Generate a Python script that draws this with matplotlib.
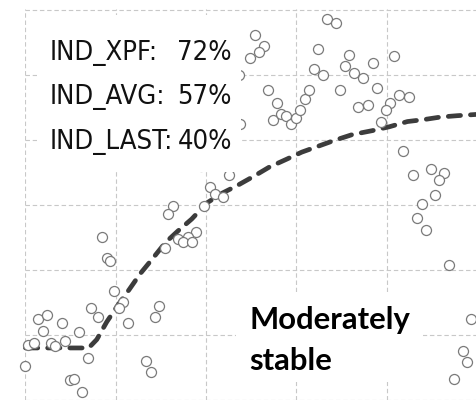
import matplotlib
matplotlib.use("Agg")
import matplotlib.pyplot as plt
from matplotlib.patches import Rectangle
import numpy as np

# observed values
obs_x = [2.54, 2.64, 2.59, 2.49, 2.36, 2.69, 2.79, 2.74, 2.83, 2.89, 2.94, 3.00,
         3.04, 3.10, 3.14, 2.38, 3.24, 3.19, 3.29, 3.34, 3.44, 3.58, 3.54, 3.64,
         3.74, 3.85, 4.08, 3.48, 3.89, 3.68, 3.79, 4.04, 3.99, 3.94, 4.14, 4.25,
         4.18, 4.29, 4.49, 4.63, 4.58, 4.54, 4.39, 4.34, 4.44, 4.69, 4.93, 4.85,
         4.89, 4.75,
         2.25, 1.94, 2.04, 2.10, 2.19, 1.98, 1.63, 1.58, 1.89, 1.80, 1.69, 1.75,
         1.84, 1.54,
         0.85, 0.90, 0.94, 0.98, 1.08, 1.04, 0.73, 0.80, 1.14, 1.48, 1.44, 0.14,
         0.24, 0.19, 0.40, 0.59, 0.03, 0.09, 0.28, 0.33, 0.44, -0.01, 0.69, 0.49,
         0.54, 0.63, 1.34, 1.39]
obs_y = [5.61, 5.44, 5.35, 5.26, 5.00, 4.76, 4.56, 4.31, 4.40, 4.37, 4.25, 4.33,
         4.45, 4.63, 4.76, 4.24, 5.40, 5.09, 5.00, 5.86, 5.80, 5.31, 5.14, 5.02,
         4.95, 5.18, 5.28, 4.76, 4.79, 4.51, 4.54, 4.56, 4.46, 4.28, 4.69, 4.66,
         3.82, 3.46, 3.55, 3.49, 3.38, 3.15, 3.01, 2.80, 2.61, 2.08, 1.24, 0.75,
         0.58, 0.32,
         3.46, 3.59, 3.27, 3.17, 3.12, 2.98, 2.98, 2.86, 2.58, 2.51, 2.48, 2.43,
         2.43, 2.34,
         2.51, 2.19, 2.14, 1.68, 1.50, 1.41, 1.42, 1.27, 1.19, 1.45, 1.27, 1.25,
         1.30, 1.06, 1.19, 1.04, 0.84, 0.87, 0.87, 0.83, 0.90, 0.52, 0.64, 0.31,
         0.32, 0.12, 0.60, 0.43]

# fitted trend
fit_x = [0.00, 0.70, 0.79, 0.90, 1.03, 1.15, 1.27, 1.40, 1.55, 1.69, 1.84, 2.01,
         2.18, 2.35, 2.53, 2.70, 2.89, 3.06, 3.22, 3.42, 3.62, 3.84, 4.03, 4.23,
         4.41, 4.60, 4.78, 5.00]
fit_y = [0.80, 0.80, 0.93, 1.20, 1.47, 1.70, 1.94, 2.16, 2.42, 2.60, 2.78, 3.03,
         3.18, 3.30, 3.44, 3.58, 3.70, 3.81, 3.89, 3.99, 4.08, 4.14, 4.20, 4.28,
         4.31, 4.35, 4.37, 4.39]

ind_names = ["IND_XPF:", "IND_AVG:", "IND_LAST:"]
ind_values = [72, 57, 40]

fig = plt.figure(figsize=(4.77, 4.0), dpi=100)
ax = fig.add_axes([25 / 477, 0, 452 / 477, 391 / 400])
ax.set_xlim(-0.005, 5.0)
ax.set_ylim(0.015, 6.01)
ax.set_xticks(np.arange(0, 5))
ax.set_yticks(np.arange(0, 7))
ax.tick_params(length=0, labelleft=False, labelbottom=False)
for s in ax.spines.values():
    s.set_visible(False)
ax.grid(True, color="#c8c8c8", lw=0.8, ls=(0, (4, 2.5)))
ax.set_axisbelow(True)

ax.plot(fit_x, fit_y, color="#3c3c3c", lw=3.4, ls=(0, (2.6, 2.1)),
        dash_capstyle="round", zorder=2, clip_on=False)
ax.scatter(obs_x, obs_y, s=52, facecolor="white", edgecolor="#7a7a7a",
           linewidth=0.9, zorder=3, clip_on=False)

# indicator box
ax.add_patch(Rectangle((0.0265, 0.583), 0.4515, 0.402, transform=ax.transAxes,
                       facecolor="white", edgecolor="none", zorder=4))
ind_font = dict(family="DejaVu Sans", stretch="condensed", color="#111111",
                zorder=5, transform=ax.transAxes, va="baseline")
labels = []
for i, (name, val) in enumerate(zip(ind_names, ind_values)):
    yb = (400 - (60 + 44.5 * i)) / 391
    labels.append(ax.text(0.0553, yb, name, ha="left", fontsize=20, **ind_font))
    labels.append(ax.text(0.458, yb, f"{val}%", ha="right", fontsize=20, **ind_font))

# shrink the indicator font so the longest name spans ~124 px
renderer = fig.canvas.get_renderer()
w = labels[4].get_window_extent(renderer).width
for t in labels:
    t.set_fontsize(20 * 124 / w)

# label box
ax.add_patch(Rectangle((0.467, 0.046), 0.414, 0.23, transform=ax.transAxes,
                       facecolor="white", edgecolor="none", zorder=4))
for txt, py in [("Moderately", 329), ("stable", 370)]:
    ax.text(0.4956, (400 - py) / 391, txt, transform=ax.transAxes,
            ha="left", va="baseline", fontsize=22.3, fontweight="bold",
            family="Lato", color="black", zorder=5)

fig.savefig("out.png", dpi=100)
